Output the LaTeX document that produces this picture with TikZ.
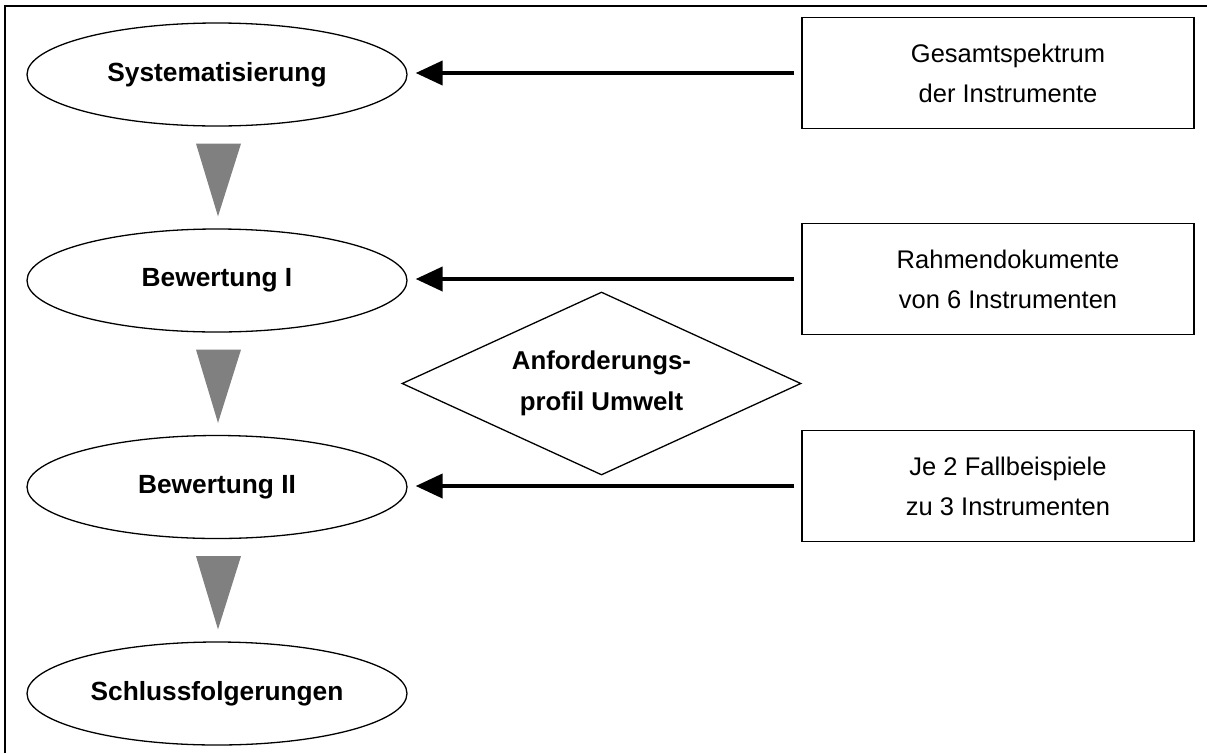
\documentclass[tikz,border=0pt]{standalone}
\usepackage{fontspec}
\setmainfont{Liberation Sans}
\usetikzlibrary{shapes.geometric,arrows.meta,calc}
\newcommand{\txtpush}{\hspace*{20pt}}
\begin{document}
\begin{tikzpicture}[x=1pt,y=-1pt,
  stage/.style={ellipse,draw,line width=1.3pt,minimum width=380pt,minimum height=103pt,inner sep=0pt,font=\fontsize{26.3pt}{40pt}\selectfont\bfseries},
  source/.style={rectangle,draw,line width=1.3pt,minimum width=392pt,minimum height=111pt,inner sep=0pt,align=center,font=\fontsize{25.5pt}{40pt}\selectfont},
  profile/.style={diamond,aspect=2,draw,line width=1.3pt,minimum width=399pt,minimum height=183pt,inner sep=0pt,align=center,font=\fontsize{25.8pt}{41pt}\selectfont\bfseries},
  feed/.style={line width=4pt,-{Triangle[length=27pt,width=24pt]},shorten <=7pt,shorten >=8pt},
  flow/.style={fill=black!50,draw=none}]
\useasboundingbox (0,0) rectangle (1207,753);
\fill[white] (0,0) rectangle (1207,753);
\draw[line width=2pt] (5,753) -- (5,6) -- (1207,6);

\node[stage] (e1) at (217,74.5) {Systematisierung};
\node[stage] (e2) at (217,280.5) {Bewertung I};
\node[stage] (e3) at (217,487) {Bewertung II};
\node[stage] (e4) at (217,693.5) {Schlussfolgerungen};

\node[source] (b1) at (998,73) {\txtpush Gesamtspektrum\\\txtpush der Instrumente};
\node[source] (b2) at (998,279) {\txtpush Rahmendokumente\\\txtpush von 6 Instrumenten};
\node[source] (b3) at (998,486) {\txtpush Je 2 Fallbeispiele\\\txtpush zu 3 Instrumenten};

\node[profile] (d) at (601.5,383.5) {Anforderungs-\\profil Umwelt};

\draw[feed] (b1.west) -- (b1.west -| e1.east);
\draw[feed] (b2.west) -- (b2.west -| e2.east);
\draw[feed] (b3.west) -- (b3.west -| e3.east);

\fill[flow] ($(e1.south)+(-21,17)$) -- ($(e1.south)+(24,17)$) -- ($(e2.north)+(1,-12)$) -- cycle;
\fill[flow] ($(e2.south)+(-21,17)$) -- ($(e2.south)+(24,17)$) -- ($(e3.north)+(1,-12)$) -- cycle;
\fill[flow] ($(e3.south)+(-21,17)$) -- ($(e3.south)+(24,17)$) -- ($(e4.north)+(1,-12)$) -- cycle;
\end{tikzpicture}
\end{document}
